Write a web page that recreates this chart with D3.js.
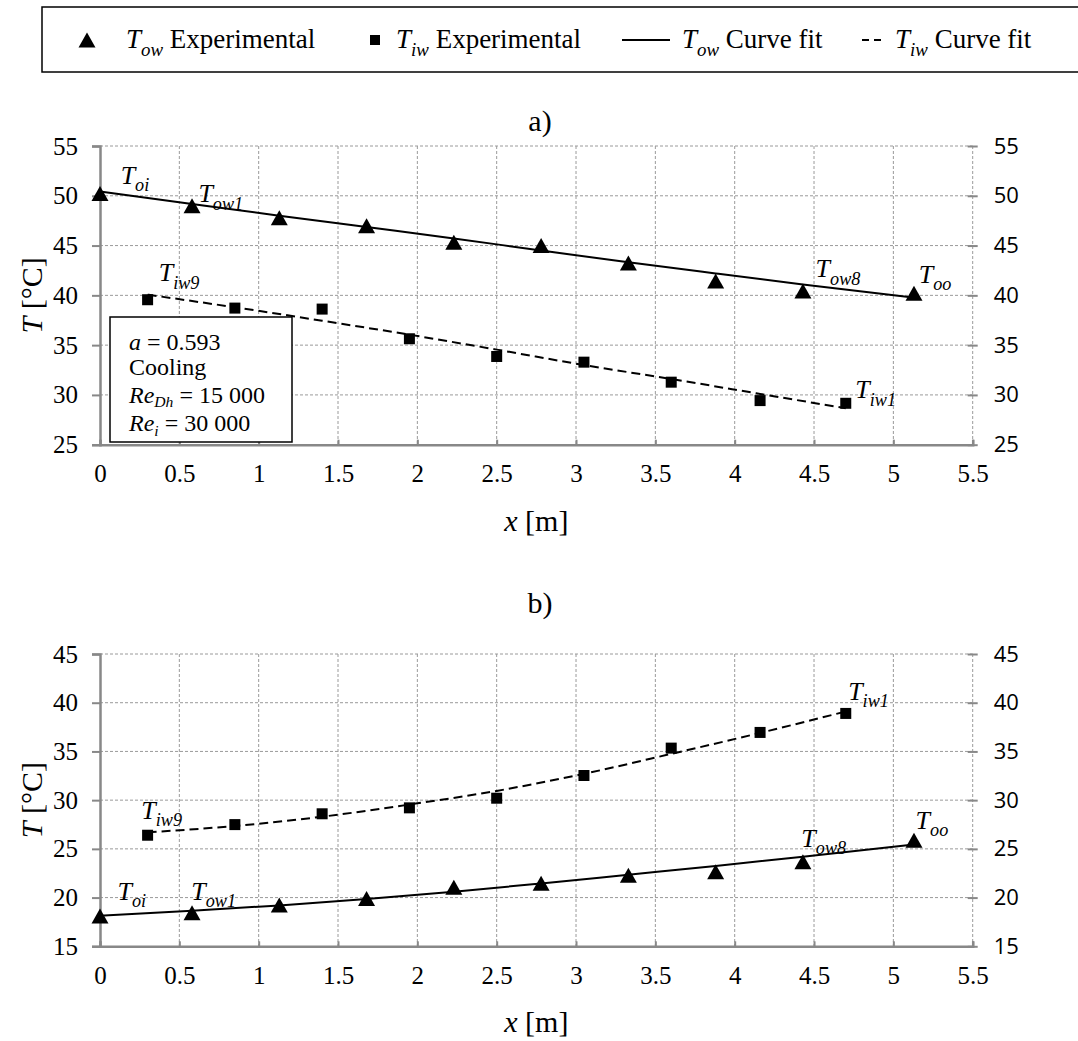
<!DOCTYPE html>
<html><head><meta charset="utf-8">
<script src="https://cdn.jsdelivr.net/npm/d3@7"></script>
<style>body{margin:0;background:#fff;} svg{display:block;}</style>
</head><body>
<svg id="chart" width="1078" height="1041"></svg>
<script>
// ---------- data ----------
const xTicks = [0, 0.5, 1, 1.5, 2, 2.5, 3, 3.5, 4, 4.5, 5, 5.5];
const yTicksA = [25, 30, 35, 40, 45, 50, 55];
const yTicksB = [15, 20, 25, 30, 35, 40, 45];

const xOw = [0, 0.58, 1.13, 1.68, 2.23, 2.78, 3.33, 3.88, 4.43, 5.13];
const xIw = [0.30, 0.85, 1.40, 1.95, 2.50, 3.05, 3.60, 4.16, 4.70];

// a) cooling
const owExpA = [50.23, 49.0, 47.8, 46.98, 45.34, 45.0, 43.26, 41.44, 40.44, 40.2];
const iwExpA = [39.56, 38.72, 38.62, 35.64, 33.86, 33.29, 31.28, 29.43, 29.16];
const owFitA = [50.44, 49.18, 48.0, 46.86, 45.72, 44.5, 43.32, 42.2, 41.1, 39.76];
const iwFitA = [40.07, 38.8, 37.45, 36.05, 34.55, 33.0, 31.6, 30.1, 28.66];

// b) heating
const owExpB = [18.1, 18.45, 19.25, 19.9, 21.05, 21.46, 22.3, 22.65, 23.67, 25.88];
const iwExpB = [26.4, 27.49, 28.6, 29.21, 30.2, 32.53, 35.34, 36.95, 38.9];
const owFitB = [18.13, 18.65, 19.2, 19.85, 20.6, 21.45, 22.35, 23.25, 24.2, 25.45];
const iwFitB = [26.7, 27.35, 28.3, 29.55, 30.95, 32.7, 34.75, 36.9, 39.1];

// point labels: [main, sub, x, y]
const labelsA = [
  ["T", "oi", 0.13, 51.2], ["T", "ow1", 0.62, 49.33], ["T", "iw9", 0.37, 41.4],
  ["T", "ow8", 4.51, 41.8], ["T", "oo", 5.16, 41.28], ["T", "iw1", 4.76, 29.66]
];
const labelsB = [
  ["T", "oi", 0.11, 19.76], ["T", "ow1", 0.575, 19.76], ["T", "iw9", 0.26, 28.07],
  ["T", "ow8", 4.42, 25.17], ["T", "oo", 5.14, 27.05], ["T", "iw1", 4.715, 40.27]
];

// ---------- setup ----------
const SERIF = "'Liberation Serif','Times New Roman',serif";
const SANS = "'Open Sans','Noto Sans',sans-serif";
const svg = d3.select("#chart");
const x = d3.scaleLinear().domain([0, 5.5]).range([100, 972.7]);

function rich(g, px, py, parts, size, anchor, subShift, subScale) {
  const sh = subShift == null ? 0.28 : subShift;
  const sc = subScale == null ? 0.7 : subScale;
  const t = g.append("text").attr("x", px).attr("y", py)
    .attr("font-family", SERIF).attr("font-size", size)
    .attr("text-anchor", anchor || "start").attr("fill", "#000");
  let shifted = false;
  parts.forEach(p => {
    const ts = t.append("tspan").text(p.t);
    if (p.it) ts.attr("font-style", "italic");
    if (p.sub) {
      ts.attr("font-size", size * sc);
      if (!shifted) { ts.attr("dy", size * sh); shifted = true; }
    } else if (shifted) { ts.attr("dy", -size * sh); shifted = false; }
  });
  return t;
}

function triPath(cx, cy, w, h) {
  return `M${cx},${cy - h / 2}L${cx + w / 2},${cy + h / 2}L${cx - w / 2},${cy + h / 2}Z`;
}

function panel(cfg) {
  const y = d3.scaleLinear().domain(cfg.domain).range([cfg.bottom, cfg.top]);
  const g = svg.append("g");

  // grid
  g.append("g").selectAll("line").data(xTicks.slice(1)).join("line")
    .attr("x1", d => x(d)).attr("x2", d => x(d))
    .attr("y1", cfg.top).attr("y2", cfg.bottom)
    .attr("stroke", "#9a9a9a").attr("stroke-width", 1).attr("stroke-dasharray", "3,2");
  g.append("g").selectAll("line").data(cfg.ticks.slice(1)).join("line")
    .attr("x1", x(0)).attr("x2", x(5.5))
    .attr("y1", d => y(d)).attr("y2", d => y(d))
    .attr("stroke", "#9a9a9a").attr("stroke-width", 1).attr("stroke-dasharray", "3,2");

  // left axis
  const la = g.append("g").attr("transform", `translate(${x(0)},0)`)
    .call(d3.axisLeft(y).tickValues(cfg.ticks).tickSize(8).tickPadding(14));
  la.select(".domain").attr("stroke", "#888").attr("stroke-width", 2.5);
  la.selectAll(".tick line").attr("stroke", "#888").attr("stroke-width", 2);
  la.selectAll(".tick text").attr("font-family", SERIF).attr("font-size", 25).attr("fill", "#000");

  // right axis
  const ra = g.append("g").attr("transform", `translate(${x(5.5)},0)`)
    .call(d3.axisRight(y).tickValues(cfg.ticks).tickSize(5).tickPadding(16));
  ra.select(".domain").remove();
  ra.selectAll(".tick line").attr("x1", -5).attr("stroke", "#888").attr("stroke-width", 2);
  ra.selectAll(".tick text").attr("font-family", SANS).attr("font-size", 22).attr("fill", "#000");

  // bottom axis
  const ba = g.append("g").attr("transform", `translate(0,${cfg.bottom})`)
    .call(d3.axisBottom(x).tickValues(xTicks).tickSize(-5).tickPadding(20)
      .tickFormat(d => String(d)));
  ba.select(".domain").attr("stroke", "#888").attr("stroke-width", 2.5);
  ba.selectAll(".tick line").attr("stroke", "#888").attr("stroke-width", 2);
  ba.selectAll(".tick text").attr("font-family", SERIF).attr("font-size", 25).attr("fill", "#000");

  // curves
  const line = d3.line().x(d => x(d[0])).y(d => y(d[1])).curve(d3.curveMonotoneX);
  g.append("path").datum(xOw.map((v, i) => [v, cfg.owFit[i]])).attr("d", line)
    .attr("fill", "none").attr("stroke", "#000").attr("stroke-width", 2);
  g.append("path").datum(xIw.map((v, i) => [v, cfg.iwFit[i]])).attr("d", line)
    .attr("fill", "none").attr("stroke", "#000").attr("stroke-width", 2)
    .attr("stroke-dasharray", "9,5");

  // markers
  g.append("g").selectAll("path").data(xOw.map((v, i) => [v, cfg.owExp[i]])).join("path")
    .attr("d", d => triPath(x(d[0]), y(d[1]), 17, 15)).attr("fill", "#000");
  g.append("g").selectAll("rect").data(xIw.map((v, i) => [v, cfg.iwExp[i]])).join("rect")
    .attr("x", d => x(d[0]) - 5.5).attr("y", d => y(d[1]) - 5.5)
    .attr("width", 11).attr("height", 11).attr("fill", "#000");

  // point labels
  cfg.labels.forEach(l => {
    rich(g, x(l[2]), y(l[3]), [{ t: l[0], it: true }, { t: l[1], it: true, sub: true }], 26);
  });

  // axis titles
  rich(g, 0, 0, [{ t: "T", it: true }, { t: " [°C]" }], 30, "middle")
    .attr("transform", `translate(42,${(cfg.top + cfg.bottom) / 2}) rotate(-90)`);
  rich(g, (x(0) + x(5.5)) / 2, cfg.bottom + 86, [{ t: "x", it: true }, { t: " [m]" }], 30, "middle");
  // panel title
  rich(g, 540, cfg.titleY, [{ t: cfg.title }], 30, "middle");
  return { g, y };
}

panel({ domain: [25, 55], top: 146, bottom: 444.7, ticks: yTicksA,
  owExp: owExpA, iwExp: iwExpA, owFit: owFitA, iwFit: iwFitA, labels: labelsA,
  title: "a)", titleY: 131 });
panel({ domain: [15, 45], top: 654, bottom: 946.3, ticks: yTicksB,
  owExp: owExpB, iwExp: iwExpB, owFit: owFitB, iwFit: iwFitB, labels: labelsB,
  title: "b)", titleY: 613 });

// text box in panel a
const boxG = svg.append("g");
boxG.append("rect").attr("x", 110).attr("y", 317).attr("width", 182).attr("height", 125)
  .attr("fill", "#fff").attr("stroke", "#000").attr("stroke-width", 1.5);
rich(boxG, 129, 350, [{ t: "a", it: true }, { t: " = 0.593" }], 24);
rich(boxG, 129, 375, [{ t: "Cooling" }], 24);
rich(boxG, 129, 403, [{ t: "Re", it: true }, { t: "Dh", it: true, sub: true }, { t: " = 15 000" }], 24, "start", 0.18, 0.65);
rich(boxG, 129, 431, [{ t: "Re", it: true }, { t: "i", it: true, sub: true }, { t: " = 30 000" }], 24, "start", 0.2, 0.65);

// legend
const lg = svg.append("g");
lg.append("rect").attr("x", 42).attr("y", 7).attr("width", 1100).attr("height", 65)
  .attr("fill", "#fff").attr("stroke", "#000").attr("stroke-width", 1.5);
const ly = 40;
lg.append("path").attr("d", triPath(87, ly, 17, 15)).attr("fill", "#000");
rich(lg, 126, ly + 8, [{ t: "T", it: true }, { t: "ow", it: true, sub: true }, { t: " Experimental" }], 27);
lg.append("rect").attr("x", 370).attr("y", ly - 5).attr("width", 10).attr("height", 10).attr("fill", "#000");
rich(lg, 396, ly + 8, [{ t: "T", it: true }, { t: "iw", it: true, sub: true }, { t: " Experimental" }], 27);
lg.append("line").attr("x1", 622).attr("x2", 670).attr("y1", ly).attr("y2", ly)
  .attr("stroke", "#000").attr("stroke-width", 2);
rich(lg, 682, ly + 8, [{ t: "T", it: true }, { t: "ow", it: true, sub: true }, { t: " Curve fit" }], 27);
lg.append("line").attr("x1", 862).attr("x2", 881).attr("y1", ly).attr("y2", ly)
  .attr("stroke", "#000").attr("stroke-width", 2).attr("stroke-dasharray", "7,5");
rich(lg, 895, ly + 8, [{ t: "T", it: true }, { t: "iw", it: true, sub: true }, { t: " Curve fit" }], 27);
</script>
</body></html>
